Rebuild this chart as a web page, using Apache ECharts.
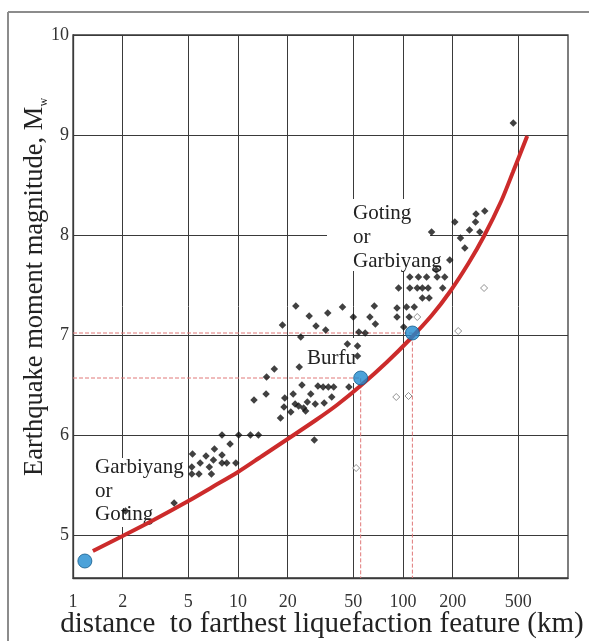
<!DOCTYPE html>
<html><head><meta charset="utf-8">
<script src="https://cdn.jsdelivr.net/npm/echarts@6/dist/echarts.min.js"></script>
<style>html,body{margin:0;padding:0;background:#fff}#c{width:589px;height:641px}</style>
</head><body><div id="c"></div>
<script>
const xTicks = [1, 2, 5, 10, 20, 50, 100, 200, 500];
const yTicks = [5, 6, 7, 8, 9, 10];
const xRange = [1, 1000];
const yRange = [4.57, 10];

// observed liquefaction cases: [distance km, Mw]
const observed = [
  [466,9.12],[277,8.21],[313,8.24],[206,8.13],[275,8.13],[149,8.03],[253,8.05],[292,8.03],[223,7.97],[237,7.87],[192,7.75],[159,7.65],
  [110,7.58],[124,7.58],[139,7.58],[161,7.58],[179,7.58],
  [94,7.47],[110,7.47],[122,7.47],[131,7.47],[142,7.47],[174,7.47],
  [131,7.37],[144,7.37],
  [43,7.28],[67,7.29],[92,7.27],[105,7.28],[117,7.28],[35,7.22],
  [50,7.18],[63,7.18],[92,7.18],[109,7.18],
  [68,7.11],[101,7.08],[54,7.03],[59,7.02],[46,6.91],[53,6.89],[53,6.79],
  [22.4,7.29],[27,7.19],[18.6,7.10],[29.7,7.09],[34,7.05],[24,6.98],
  [23.5,6.68],[16.6,6.66],[14.9,6.58],
  [24.4,6.50],[30.5,6.49],[32.8,6.48],[35.3,6.48],[38,6.48],[47,6.48],
  [14.8,6.41],[12.5,6.35],[21.6,6.41],[27.6,6.41],[19.2,6.37],
  [22.2,6.31],[23.3,6.29],[25,6.27],[26.3,6.33],[29.4,6.31],[33.3,6.32],[37,6.38],
  [19,6.28],[20.9,6.23],[25.7,6.24],[18.1,6.17],[29,5.95],
  [8.0,6.0],[10.1,6.0],[11.9,6.0],[13.3,6.0],[8.95,5.91],
  [5.3,5.81],[6.4,5.79],[7.2,5.86],[8.0,5.80],[7.1,5.75],[5.9,5.72],[5.25,5.68],[6.7,5.68],[8.0,5.72],[8.55,5.72],[9.7,5.72],
  [5.25,5.61],[5.8,5.61],[6.9,5.61],
  [4.1,5.32],[2.08,5.24]
];
// open symbols
const openPoints = [[52,5.67],[91,6.38],[108,6.39],[122,7.18],[216,7.04],[310,7.47]];
// sites (blue dots)
const sitePoints = [[1.18,4.74],[55.4,6.57],[114,7.02]];
// bounding curve
const curve = [[1.32,4.84],[2,4.99],[3,5.14],[5,5.34],[7,5.48],[10,5.63],[14,5.79],[20,5.96],[29.7,6.15],[39.8,6.30],[56,6.50],[80,6.73],[109,6.95],[150,7.20],[192,7.43],[250,7.72],[310,7.99],[394,8.34],[464,8.63],[566,8.99]];

const serif = '"Liberation Serif", "DejaVu Serif", serif';
const chart = echarts.init(document.getElementById('c'), null, {renderer: 'canvas'});

const guideSeries = sitePoints.slice(1).map(p => ({
  type: 'line', silent: true, symbol: 'none', z: 2,
  lineStyle: {color: '#e07878', width: 1, type: [4, 2]},
  data: [[xRange[0], p[1]], [p[0], p[1]], [p[0], yRange[0]]]
}));

chart.setOption({
  animation: false,
  backgroundColor: '#fff',
  grid: {left: 73, right: 21, top: 35, bottom: 63, show: true, borderColor: '#3a3a3a', borderWidth: 1.3, backgroundColor: 'transparent'},
  xAxis: {
    type: 'log', logBase: 10, min: xRange[0], max: xRange[1],
    axisLine: {show: true, lineStyle: {color: '#3a3a3a', width: 1.3}},
    axisTick: {show: false, customValues: xTicks},
    axisLabel: {customValues: xTicks, margin: 15, color: '#333', fontFamily: serif, fontSize: 18},
    splitLine: {show: true, lineStyle: {color: '#3a3a3a', width: 1}}
  },
  yAxis: {
    type: 'value', min: yRange[0], max: yRange[1],
    axisLine: {show: true, lineStyle: {color: '#3a3a3a', width: 1.3}},
    axisTick: {show: false, customValues: yTicks},
    axisLabel: {customValues: yTicks, margin: 4, color: '#333', fontFamily: serif, fontSize: 18},
    splitLine: {show: true, lineStyle: {color: '#3a3a3a', width: 1}}
  },
  graphic: [
    {type: 'line', z: 1, shape: {x1: 8, y1: 12, x2: 589, y2: 12}, style: {stroke: '#8c8c8c', lineWidth: 2}},
    {type: 'line', z: 1, shape: {x1: 8, y1: 12, x2: 8, y2: 641}, style: {stroke: '#8c8c8c', lineWidth: 2}},
    {type: 'rect', z: 1, shape: {x: 327, y: 199, width: 103, height: 72}, style: {fill: '#fff'}},
    {type: 'rect', z: 1, shape: {x: 94, y: 458, width: 94, height: 69}, style: {fill: '#fff'}},
    {type: 'rect', z: 1, shape: {x: 305, y: 338, width: 53, height: 45}, style: {fill: '#fff'}},
    {type: 'text', z: 1, x: 353, y: 201, style: {text: 'Goting\nor\nGarbiyang', font: '21px ' + serif, lineHeight: 24, fill: '#222'}},
    {type: 'text', z: 1, x: 95, y: 456, style: {text: 'Garbiyang\nor\nGoting', font: '21px ' + serif, lineHeight: 23.5, fill: '#222'}},
    {type: 'text', z: 1, x: 307, y: 346, style: {text: 'Burfu', font: '21px ' + serif, lineHeight: 24, fill: '#222'}},
    {type: 'text', z: 1, x: 322, y: 624, style: {text: 'distance  to farthest liquefaction feature (km)', font: '29px ' + serif, fill: '#222', textAlign: 'center', textVerticalAlign: 'middle'}},
    {type: 'text', z: 1, x: 35, y: 287, rotation: Math.PI / 2, style: {
      text: '{a|Earthquake moment magnitude, M}{s|w}', textAlign: 'center', textVerticalAlign: 'middle', fill: '#222',
      rich: {a: {fontFamily: serif, fontSize: 26.5, lineHeight: 30, verticalAlign: 'middle', fill: '#222'},
             s: {fontFamily: serif, fontSize: 12, lineHeight: 30, verticalAlign: 'bottom', fill: '#222'}}
    }}
  ],
  series: [
    ...guideSeries,
    {type: 'line', name: 'bound', data: curve, smooth: 0.3, symbol: 'none', z: 3,
     lineStyle: {color: '#cc2b2b', width: 4}},
    {type: 'scatter', name: 'observed', data: observed, symbol: 'diamond', symbolSize: 7.5, z: 4,
     itemStyle: {color: '#111'}},
    {type: 'scatter', name: 'open', data: openPoints, symbol: 'diamond', symbolSize: 7, z: 4,
     itemStyle: {color: '#fff', borderColor: '#777', borderWidth: 1}},
    {type: 'scatter', name: 'sites', data: sitePoints, symbol: 'circle', symbolSize: 14, z: 5,
     itemStyle: {color: '#1f8bd0', borderColor: '#155d8c', borderWidth: 1}}
  ]
});
</script>
</body></html>
